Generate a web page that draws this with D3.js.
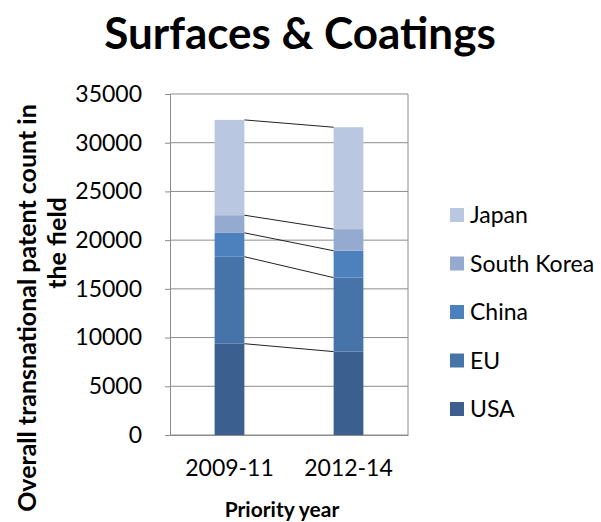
<!DOCTYPE html>
<html>
<head>
<meta charset="utf-8">
<script src="https://cdn.jsdelivr.net/npm/d3@7"></script>
<style>
  body { margin: 0; background: #fff; }
  text { font-family: Lato, "Open Sans", sans-serif; fill: #000; }
</style>
</head>
<body>
<div id="chart"></div>
<script>
// Chart data
const periods = ["2009-11", "2012-14"]
const regions = ["USA", "EU", "China", "South Korea", "Japan"]
const usa = [9370, 8560]
const eu = [8930, 7590]
const china = [2450, 2760]
const southKorea = [1810, 2220]
const japan = [9780, 10460]
const yTicks = [0, 5000, 10000, 15000, 20000, 25000, 30000, 35000]
const colours = ["#3B5F8F", "#4673A8", "#4D81BE", "#95AACF", "#B9C7E1"]

const width = 601, height = 522
const margin = {top: 94, left: 170, right: 193, bottom: 87}

let svg = d3.select("#chart").append("svg")
    .attr("width", width)
    .attr("height", height)

// build rows for the stack
const rows = periods.map((p, i) => ({
    period: p, "USA": usa[i], "EU": eu[i], "China": china[i],
    "South Korea": southKorea[i], "Japan": japan[i]
}))
const stacked = d3.stack().keys(regions)(rows)

const x = d3.scaleBand()
    .domain(periods)
    .range([margin.left, width - margin.right])
    .paddingInner(0.75)
    .paddingOuter(0.375)

const y = d3.scaleLinear()
    .domain([0, 35000])
    .range([height - margin.bottom, margin.top])

const colour = d3.scaleOrdinal().domain(regions).range(colours)

// gridlines
svg.append("g")
    .selectAll("line")
    .data(yTicks)
    .join("line")
    .attr("x1", margin.left)
    .attr("x2", width - margin.right)
    .attr("y1", d => y(d))
    .attr("y2", d => y(d))
    .attr("stroke", "#8c8c8c")
    .attr("stroke-width", 1)

// right border of plot area
svg.append("line")
    .attr("x1", width - margin.right).attr("x2", width - margin.right)
    .attr("y1", y(35000)).attr("y2", y(0))
    .attr("stroke", "#8c8c8c")

// y axis
let yAxis = svg.append("g")
    .attr("transform", `translate(${margin.left},0)`)
    .call(d3.axisLeft(y).tickValues(yTicks).tickSize(5).tickPadding(23).tickFormat(d3.format("d")))
yAxis.select(".domain").attr("stroke", "#8c8c8c")
yAxis.selectAll(".tick line").attr("stroke", "#8c8c8c")
yAxis.selectAll("text")
    .style("font-size", "23px")
    .style("font-family", "Lato, sans-serif")
    .attr("fill", "#222")

// x axis baseline
let xAxis = svg.append("g")
    .attr("transform", `translate(0,${y(0)})`)
    .call(d3.axisBottom(x).tickSize(0).tickPadding(25))
xAxis.select(".domain").attr("stroke", "#8c8c8c")
xAxis.selectAll("text")
    .style("font-size", "23px")
    .style("font-family", "Lato, sans-serif")
    .attr("fill", "#222")

// stacked bars
svg.append("g")
    .selectAll("g")
    .data(stacked)
    .join("g")
    .attr("fill", d => colour(d.key))
    .selectAll("rect")
    .data(d => d)
    .join("rect")
    .attr("x", d => x(d.data.period))
    .attr("width", x.bandwidth())
    .attr("y", d => y(d[1]))
    .attr("height", d => y(d[0]) - y(d[1]))

// series lines between bars
svg.append("g")
    .selectAll("line")
    .data(stacked)
    .join("line")
    .attr("x1", x(periods[0]) + x.bandwidth())
    .attr("x2", x(periods[1]))
    .attr("y1", d => y(d[0][1]))
    .attr("y2", d => y(d[1][1]))
    .attr("stroke", "#222")
    .attr("stroke-width", 1)

// title
svg.append("text")
    .attr("x", 300)
    .attr("y", 49)
    .attr("text-anchor", "middle")
    .style("font-size", "44px")
    .style("font-weight", "bold")
    .text("Surfaces & Coatings")

// y axis title (two lines, as wrapped in the original)
svg.append("text")
    .attr("transform", "translate(36,308) rotate(-90)")
    .attr("text-anchor", "middle")
    .style("font-size", "25px")
    .style("font-weight", "bold")
    .text("Overall transnational  patent count in")
svg.append("text")
    .attr("transform", "translate(66,243) rotate(-90)")
    .attr("text-anchor", "middle")
    .style("font-size", "25px")
    .style("font-weight", "bold")
    .text("the field")

// x axis title
svg.append("text")
    .attr("x", 282)
    .attr("y", 517)
    .attr("text-anchor", "middle")
    .style("font-size", "21px")
    .style("font-weight", "bold")
    .text("Priority year")

// legend, Japan at top
const legendItems = regions.slice().reverse()
let legend = svg.append("g")
    .selectAll("g")
    .data(legendItems)
    .join("g")
    .attr("transform", (d, i) => `translate(450,${215 + i * 48.5})`)
legend.append("rect")
    .attr("x", 0).attr("y", -7)
    .attr("width", 14).attr("height", 14)
    .attr("fill", d => colour(d))
legend.append("text")
    .attr("x", 20)
    .attr("y", 8)
    .style("font-size", "23px")
    .attr("fill", "#222")
    .text(d => d)
</script>
</body>
</html>
